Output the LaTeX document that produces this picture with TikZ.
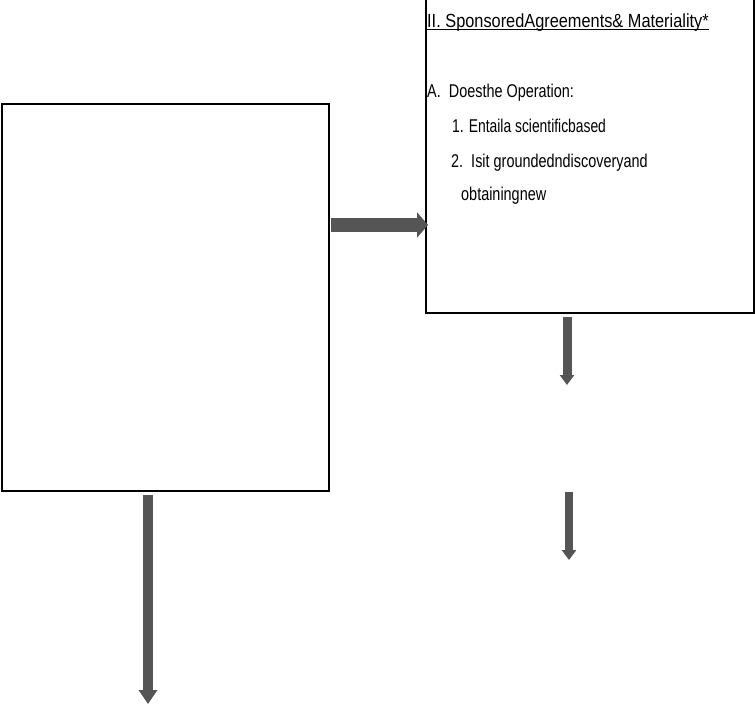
\documentclass[tikz,border=0pt]{standalone}
\usepackage{fontspec}
\setmainfont{Liberation Sans}
\newfontfamily\narrowfont[FakeStretch=0.86]{Liberation Sans}
\newfontfamily\bodyfont[FakeStretch=0.78]{Liberation Sans}
\usetikzlibrary{arrows.meta}
\definecolor{arrowgray}{HTML}{555555}
\tikzset{
  box/.style={draw=black, line width=2pt, fill=none, inner sep=0pt},
  txt/.style={anchor=base west, inner sep=0pt, font=\bodyfont\fontsize{18.5}{22}\selectfont},
  titletxt/.style={txt, font=\narrowfont\fontsize{19}{22}\selectfont},
  fatarrow/.style={draw=arrowgray, line width=#1},
}
\begin{document}
\begin{tikzpicture}[x=1pt, y=-1pt]
\clip (0,0) rectangle (755,707);
\fill[white] (0,0) rectangle (755,707);
% boxes
\node[box, minimum width=327pt, minimum height=387pt] (left) at (165.5,297.5) {};
\node[box, minimum width=328pt, minimum height=323pt] (right) at (590,151.5) {};
% text
\node[titletxt] (title) at (427,27) {II. SponsoredAgreements\& Materiality*};
\draw[line width=1.5pt] ([yshift=-2.5pt]title.base west) -- ([yshift=-2.5pt]title.base east);
\node[txt] (la) at (427,97) {A.\ \ Doesthe Operation:};
\node[txt, xscale=0.96] (l1) at (452,132) {1. Entaila scientificbased};
\node[txt] (l2) at (451,167) {2.\ \ Isit groundedndiscoveryand};
\node[txt] (l3) at (461,200) {obtainingnew};
% arrow coordinates
\coordinate (a1s) at (331,225);
\coordinate (a1e) at (428,225);
\coordinate (a2s) at (567,317);
\coordinate (a2e) at (567,385);
\coordinate (a3s) at (569,492);
\coordinate (a3e) at (569,560);
\coordinate (a4s) at (148,495);
\coordinate (a4e) at (148,704);
% arrows
\draw[fatarrow=14pt, -{Triangle[length=11pt,width=25pt]}, arrowgray] (a1s) -- (a1e);
\draw[fatarrow=9pt, -{Triangle[length=10pt,width=14pt]}, arrowgray] (a2s) -- (a2e);
\draw[fatarrow=8pt, -{Triangle[length=10pt,width=14pt]}, arrowgray] (a3s) -- (a3e);
\draw[fatarrow=10pt, -{Triangle[length=14pt,width=18pt]}, arrowgray] (a4s) -- (a4e);
\end{tikzpicture}
\end{document}
